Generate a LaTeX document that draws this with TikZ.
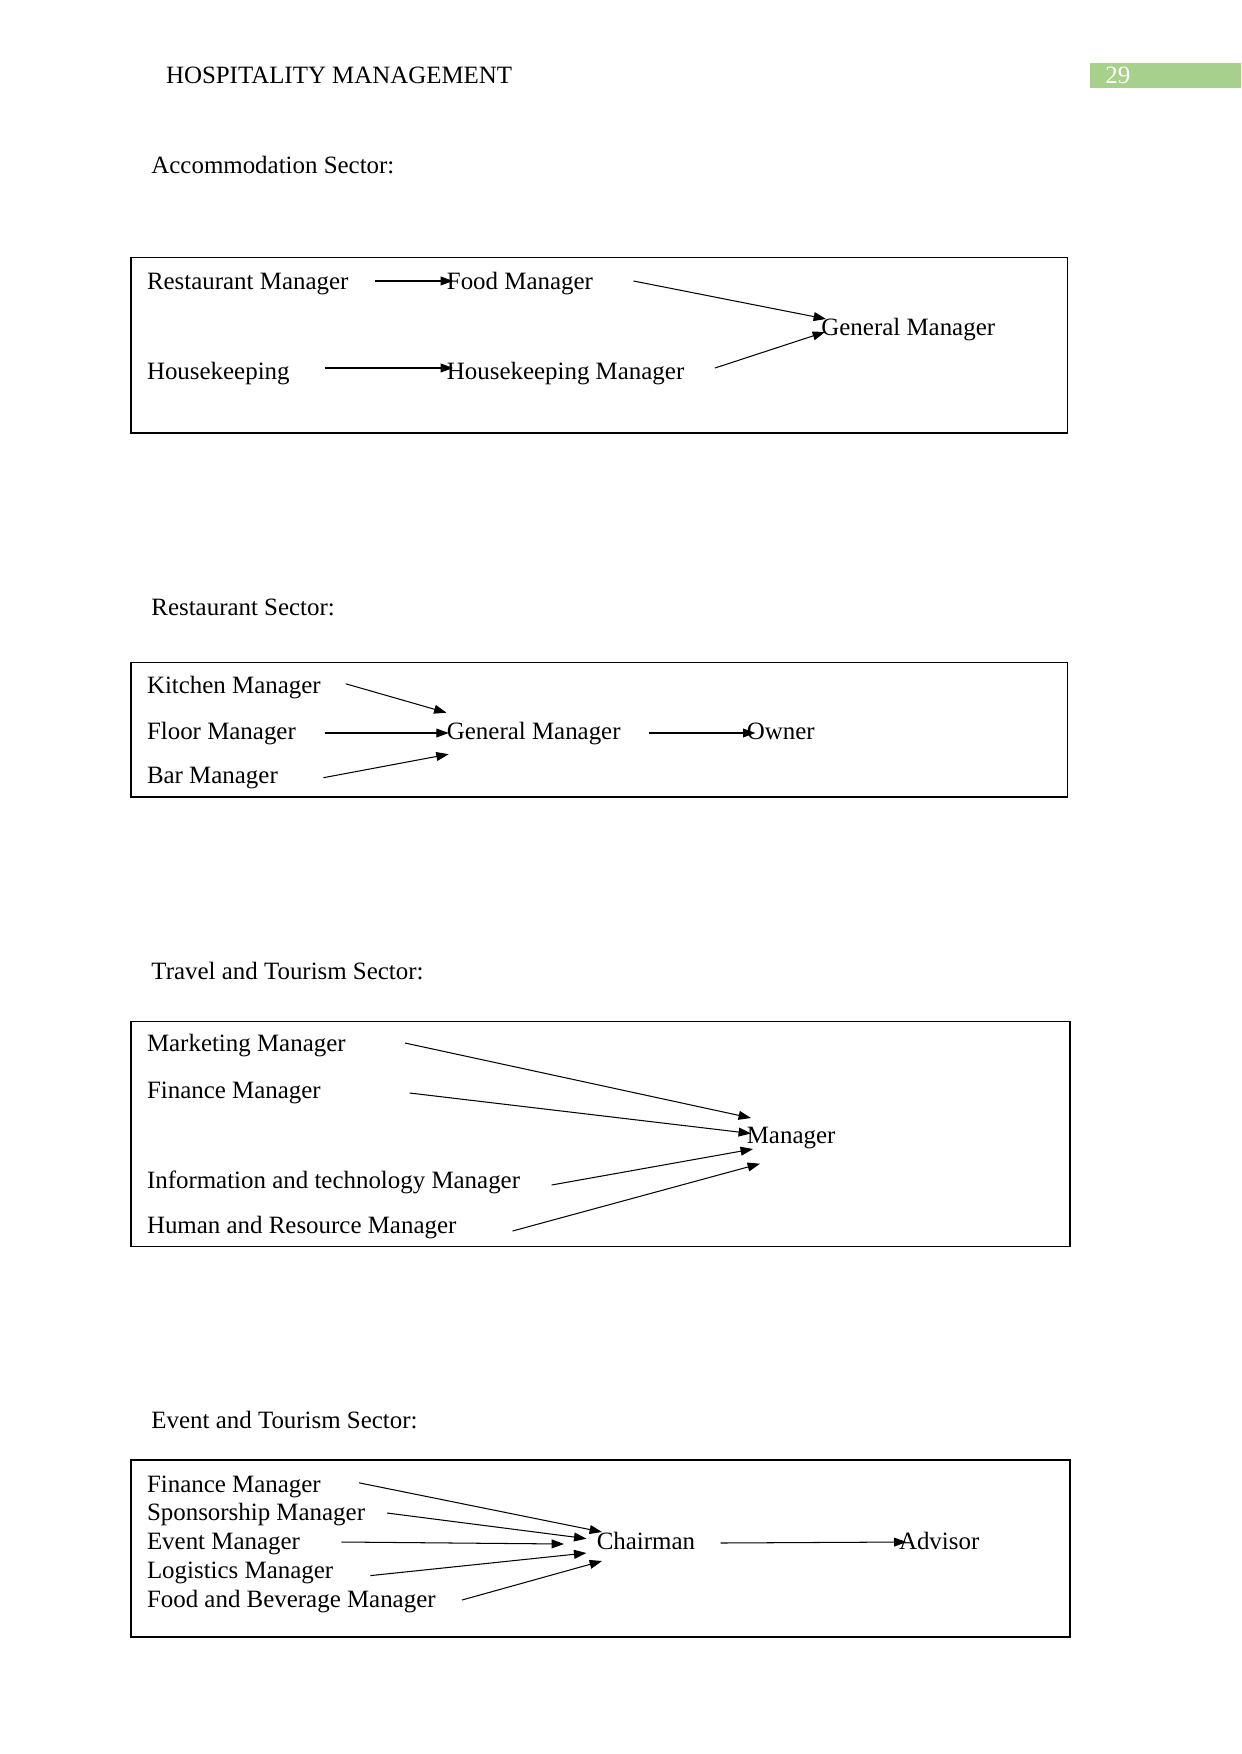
\documentclass[tikz,border=0pt]{standalone}
\usepackage{fontspec}
\setmainfont{Liberation Serif}
\usetikzlibrary{arrows.meta}
\definecolor{hdrgreen}{HTML}{A8D08D}
\begin{document}
\begin{tikzpicture}[x=0.16922mm,y=-0.16922mm,
  lbl/.style={anchor=west,inner sep=0pt,text height=8pt,text depth=0pt,font=\fontsize{12}{14}\selectfont},
  sbox/.style={draw=black,line width=0.8pt},
  arr/.style={-{Triangle[length=2.1mm,width=1.5mm]},line width=0.5pt}]
\useasboundingbox[fill=white] (0,0) rectangle (1241,1754);
% header
\node[lbl] (hdr) at (165.6,75) {HOSPITALITY MANAGEMENT};
\fill[hdrgreen] (1090,62.7) rectangle (1241,88.4);
\node[lbl,text=white] (pg) at (1105,75) {29};

% ---------- Accommodation ----------
\node[lbl] (t1) at (151,165.6) {Accommodation Sector:};
\draw[sbox] (131,257.4) rectangle (1067.6,433);
\node[lbl] (rm) at (146.6,281) {Restaurant Manager};
\node[lbl] (fm) at (446.5,281) {Food Manager};
\node[lbl] (hk) at (146.6,371.5) {Housekeeping};
\node[lbl] (hm) at (446.5,371.5) {Housekeeping Manager};
\node[lbl] (gm) at (821,326.8) {General Manager};
\draw[arr] ([shift={(228.4,0)}]rm.west) -- ([shift={(6.5,0)}]fm.west);
\draw[arr] ([shift={(187,0)}]fm.west) -- ([shift={(5,-7.8)}]gm.west);
\draw[arr] ([shift={(178,-3.5)}]hk.west) -- ([shift={(6.5,-3.5)}]hm.west);
\draw[arr] ([shift={(268.5,-3.5)}]hm.west) -- ([shift={(4,5.2)}]gm.west);

% ---------- Restaurant ----------
\node[lbl] (t2) at (151,607.6) {Restaurant Sector:};
\draw[sbox] (131,662.4) rectangle (1067.6,796.7);
\node[lbl] (km) at (146.6,684.8) {Kitchen Manager};
\node[lbl] (fl) at (146.6,730.7) {Floor Manager};
\node[lbl] (bm) at (146.6,775.5) {Bar Manager};
\node[lbl] (gmb) at (446.5,730.7) {General Manager};
\node[lbl] (ow) at (746.4,730.7) {Owner};
\draw[arr] ([shift={(199.2,-1)}]km.west) -- ([shift={(0,-18)}]gmb.west);
\draw[arr] ([shift={(178,2.3)}]fl.west) -- ([shift={(2.2,2.3)}]gmb.west);
\draw[arr] ([shift={(176.8,2.2)}]bm.west) -- ([shift={(2.2,23.5)}]gmb.west);
\draw[arr] ([shift={(202.5,2.3)}]gmb.west) -- ([shift={(9,2.3)}]ow.west);

% ---------- Travel and Tourism ----------
\node[lbl] (t3) at (151,971.3) {Travel and Tourism Sector:};
\draw[sbox] (131,1021.6) rectangle (1069.8,1246.6);
\node[lbl] (mm) at (146.6,1043) {Marketing Manager};
\node[lbl] (fin) at (146.6,1090) {Finance Manager};
\node[lbl] (it) at (146.6,1180.5) {Information and technology Manager};
\node[lbl] (hr) at (146.6,1225.3) {Human and Resource Manager};
\node[lbl] (mg) at (746.4,1134.7) {Manager};
\draw[arr] ([shift={(258.4,0)}]mm.west) -- ([shift={(4.6,-16.7)}]mg.west);
\draw[arr] ([shift={(263,3)}]fin.west) -- ([shift={(4.6,-1.2)}]mg.west);
\draw[arr] ([shift={(405,4.5)}]it.west) -- ([shift={(6.6,14.3)}]mg.west);
\draw[arr] ([shift={(366,5.7)}]hr.west) -- ([shift={(13.6,29)}]mg.west);

% ---------- Event and Tourism ----------
\node[lbl] (t4) at (151,1420) {Event and Tourism Sector:};
\draw[sbox] (131,1460.3) rectangle (1069.8,1637);
\node[lbl] (ef) at (146.6,1483.8) {Finance Manager};
\node[lbl] (sp) at (146.6,1511.7) {Sponsorship Manager};
\node[lbl] (ev) at (146.6,1540.8) {Event Manager};
\node[lbl] (lg) at (146.6,1570) {Logistics Manager};
\node[lbl] (fb) at (146.6,1599) {Food and Beverage Manager};
\node[lbl] (ch) at (596.4,1540.8) {Chairman};
\node[lbl] (ad) at (898.6,1540.8) {Advisor};
\draw[arr] ([shift={(212.4,-1)}]ef.west) -- ([shift={(5.6,-8.8)}]ch.west);
\draw[arr] ([shift={(240.4,1.3)}]sp.west) -- ([shift={(-10,-2.2)}]ch.west);
\draw[arr] ([shift={(194.7,1.2)}]ev.west) -- ([shift={(-32.4,3.2)}]ch.west);
\draw[arr] ([shift={(223.8,5.6)}]lg.west) -- ([shift={(-10,12.2)}]ch.west);
\draw[arr] ([shift={(315.4,1)}]fb.west) -- ([shift={(5.6,20.2)}]ch.west);
\draw[arr] ([shift={(124.2,2.2)}]ch.west) -- ([shift={(7.8,1.2)}]ad.west);
\end{tikzpicture}
\end{document}
